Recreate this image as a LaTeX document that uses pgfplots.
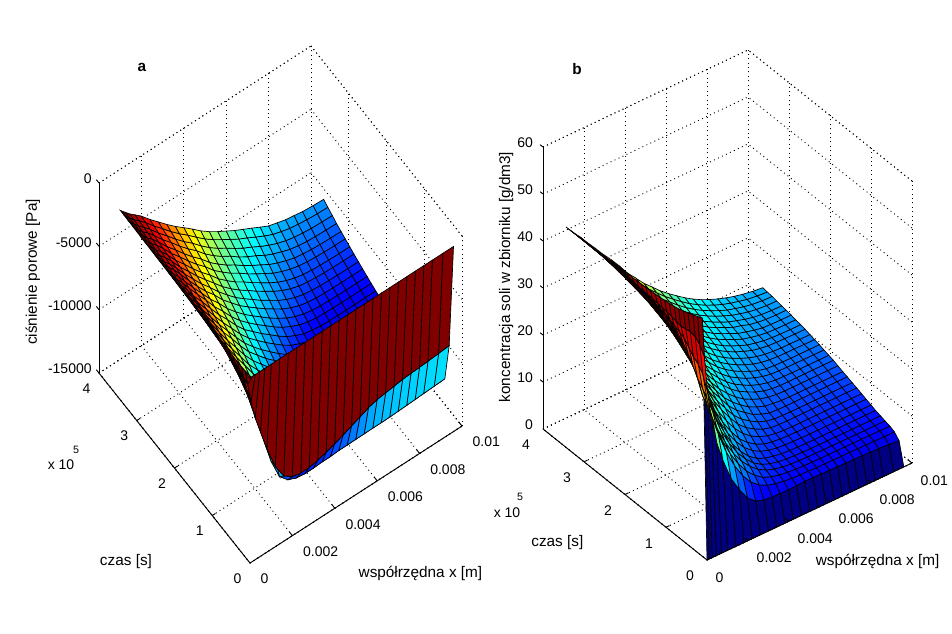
\documentclass[border=0pt]{standalone}
\usepackage{fontspec}
\setmainfont{Liberation Sans}
\usepackage{pgfplots}
\pgfplotsset{compat=1.18}
\pgfplotsset{
 common/.style={
  disabledatascaling, clip=false, anchor=origin, unbounded coords=jump,
  grid=major, grid style={black,line width=.7pt,dash pattern=on .7pt off 2.6pt},
  axis line style={black,line width=.7pt,dash pattern=on .7pt off 2.6pt},
  major tick length=0pt,
  xmin=0,xmax=10,ymin=0,ymax=4,
  xtick={0,2,4,6,8,10}, xticklabels={0,0.002,0.004,0.006,0.008,0.01},
  ytick={0,1,2,3,4}, yticklabels={0,1,2,3,4},
  every tick label/.append style={font=\fontsize{10.5}{13}\selectfont},
  colormap={mjet}{rgb=(0,0,.5) rgb=(0,0,1) rgb=(0,.5,1) rgb=(0,1,1) rgb=(.5,1,.5) rgb=(1,1,0) rgb=(1,.5,0) rgb=(1,0,0) rgb=(.5,0,0)},
 },
 srf/.style={surf,shader=flat corner,draw=black,line width=.5pt,z buffer=sort},
 ax/.style={black,line width=.7pt,solid,forget plot,no marks},
}
\def\lab{\fontsize{11.5}{13}\selectfont}
\begin{document}
\begin{tikzpicture}
\path[use as bounding box] (0,0) rectangle (714pt,474.75pt);
\begin{axis}[common,
 at={(187.5pt,195pt)},
 x={(15.9pt,10.275pt)}, y={(-28.3125pt,35.625pt)}, z={(0pt,9.5025pt)},
 zmin=-15,zmax=0, ztick={-15,-10,-5,0}, zticklabels={-15000,-10000,-5000,0},
 point meta min=-13.1, point meta max=-.4,
 xticklabel style={anchor=west,xshift=4.5pt,yshift=-12pt},
 yticklabel style={anchor=center,xshift=-9.4pt,yshift=-11.6pt},
 zticklabel style={anchor=east,xshift=-2pt,yshift=3pt},
 xlabel={współrzędna x [m]}, ylabel={czas [s]}, zlabel={ciśnienie porowe [Pa]},
 every axis x label/.style={at={(axis cs:5.05,-1.68,-15)},anchor=center,font=\lab},
 every axis y label/.style={at={(axis cs:-3.82,1.14,-15)},anchor=center,font=\lab},
 every axis z label/.style={at={(axis cs:.44,6,-15)},anchor=center,rotate=90,font=\lab},
]
\addplot3[srf] table {
x t z
0 0 -.39
.1 0 -.39
.25 0 -.39
.45 0 -.39
.7 0 -.39
1 0 -.39
1.4 0 -.39
1.8 0 -.39
2.2 0 -.39
2.6 0 -.39
3 0 -.39
3.4 0 -.39
3.8 0 -.39
4.2 0 -.39
4.6 0 -.39
5 0 -.39
5.4 0 -.39
5.8 0 -.39
6.2 0 -.39
6.6 0 -.39
7 0 -.39
7.4 0 -.39
7.8 0 -.39
8.2 0 -.39
8.6 0 -.39
9.1 0 -.39
9.6 0 -.39

0 .115 -.38
.1 .115 -1.45
.25 .115 -3
.45 .115 -4.45
.7 .115 -5.83
1 .115 -7.48
1.4 .115 -9.33
1.8 .115 -10.5
2.2 .115 -10.99
2.6 .115 -11.13
3 .115 -11.13
3.4 .115 -10.99
3.8 .115 -10.79
4.2 .115 -10.55
4.6 .115 -10.3
5 .115 -10.01
5.4 .115 -9.72
5.8 .115 -9.43
6.2 .115 -9.23
6.6 .115 -9.14
7 .115 -9.04
7.4 .115 -8.94
7.8 .115 -8.89
8.2 .115 -8.85
8.6 .115 -8.8
9.1 .115 -8.73
9.6 .115 -8.65

0 .23 -.37
.1 .23 -1.25
.25 .23 -2.32
.45 .23 -3.58
.7 .23 -5.04
1 .23 -6.99
1.4 .23 -9.32
1.8 .23 -10.98
2.2 .23 -11.66
2.6 .23 -11.95
3 .23 -12.05
3.4 .23 -12.05
3.8 .23 -12
4.2 .23 -12
4.6 .23 -11.95
5 .23 -11.95
5.4 .23 -11.94
5.8 .23 -11.93
6.2 .23 -11.92
6.6 .23 -11.92
7 .23 -11.91
7.4 .23 -11.88
7.8 .23 -11.85
8.2 .23 -11.82
8.6 .23 -11.78
9.1 .23 -11.74
9.6 .23 -11.7

0 .34 -.36
.1 .34 -1.08
.25 .34 -1.92
.45 .34 -3.23
.7 .34 -4.79
1 .34 -6.52
1.4 .34 -8.56
1.8 .34 -10.06
2.2 .34 -11.37
2.6 .34 -12.11
3 .34 -12.3
3.4 .34 -12.33
3.8 .34 -12.33
4.2 .34 -12.33
4.6 .34 -12.33
5 .34 -12.33
5.4 .34 -12.33
5.8 .34 -12.33
6.2 .34 -12.33
6.6 .34 -12.33
7 .34 -12.33
7.4 .34 -12.33
7.8 .34 -12.33
8.2 .34 -12.33
8.6 .34 -12.33
9.1 .34 -12.33
9.6 .34 -12.33

0 .46 -.34
.1 .46 -.97
.25 .46 -1.74
.45 .46 -2.83
.7 .46 -4.22
1 .46 -5.79
1.4 .46 -7.67
1.8 .46 -9.21
2.2 .46 -10.52
2.6 .46 -11.58
3 .46 -12.21
3.4 .46 -12.42
3.8 .46 -12.45
4.2 .46 -12.45
4.6 .46 -12.45
5 .46 -12.45
5.4 .46 -12.45
5.8 .46 -12.45
6.2 .46 -12.45
6.6 .46 -12.45
7 .46 -12.45
7.4 .46 -12.45
7.8 .46 -12.45
8.2 .46 -12.45
8.6 .46 -12.45
9.1 .46 -12.45
9.6 .46 -12.45

0 .57 -.33
.1 .57 -.91
.25 .57 -1.64
.45 .57 -2.57
.7 .57 -3.9
1 .57 -5.31
1.4 .57 -7.08
1.8 .57 -8.65
2.2 .57 -9.9
2.6 .57 -10.96
3 .57 -11.76
3.4 .57 -12.23
3.8 .57 -12.42
4.2 .57 -12.49
4.6 .57 -12.52
5 .57 -12.52
5.4 .57 -12.52
5.8 .57 -12.52
6.2 .57 -12.52
6.6 .57 -12.52
7 .57 -12.52
7.4 .57 -12.52
7.8 .57 -12.52
8.2 .57 -12.52
8.6 .57 -12.52
9.1 .57 -12.52
9.6 .57 -12.52

0 .69 -.32
.1 .69 -.86
.25 .69 -1.54
.45 .69 -2.31
.7 .69 -3.58
1 .69 -4.84
1.4 .69 -6.5
1.8 .69 -8.1
2.2 .69 -9.27
2.6 .69 -10.34
3 .69 -11.31
3.4 .69 -12.04
3.8 .69 -12.39
4.2 .69 -12.53
4.6 .69 -12.58
5 .69 -12.58
5.4 .69 -12.58
5.8 .69 -12.58
6.2 .69 -12.58
6.6 .69 -12.58
7 .69 -12.58
7.4 .69 -12.58
7.8 .69 -12.58
8.2 .69 -12.58
8.6 .69 -12.58
9.1 .69 -12.58
9.6 .69 -12.58

0 .8 -.31
.1 .8 -.81
.25 .8 -1.44
.45 .8 -2.19
.7 .8 -3.35
1 .8 -4.53
1.4 .8 -6.12
1.8 .8 -7.6
2.2 .8 -8.82
2.6 .8 -9.88
3 .8 -10.81
3.4 .8 -11.6
3.8 .8 -12.1
4.2 .8 -12.4
4.6 .8 -12.52
5 .8 -12.56
5.4 .8 -12.56
5.8 .8 -12.56
6.2 .8 -12.56
6.6 .8 -12.56
7 .8 -12.56
7.4 .8 -12.56
7.8 .8 -12.56
8.2 .8 -12.56
8.6 .8 -12.56
9.1 .8 -12.56
9.6 .8 -12.56

0 .92 -.3
.1 .92 -.77
.25 .92 -1.34
.45 .92 -2.07
.7 .92 -3.12
1 .92 -4.22
1.4 .92 -5.75
1.8 .92 -7.09
2.2 .92 -8.38
2.6 .92 -9.42
3 .92 -10.31
3.4 .92 -11.17
3.8 .92 -11.81
4.2 .92 -12.26
4.6 .92 -12.47
5 .92 -12.54
5.4 .92 -12.54
5.8 .92 -12.54
6.2 .92 -12.54
6.6 .92 -12.54
7 .92 -12.54
7.4 .92 -12.54
7.8 .92 -12.54
8.2 .92 -12.54
8.6 .92 -12.54
9.1 .92 -12.54
9.6 .92 -12.54

0 1.03 -.29
.1 1.03 -.73
.25 1.03 -1.3
.45 1.03 -1.97
.7 1.03 -2.91
1 1.03 -4.01
1.4 1.03 -5.45
1.8 1.03 -6.72
2.2 1.03 -8
2.6 1.03 -9.04
3 1.03 -9.92
3.4 1.03 -10.74
3.8 1.03 -11.44
4.2 1.03 -11.97
4.6 1.03 -12.28
5 1.03 -12.43
5.4 1.03 -12.5
5.8 1.03 -12.5
6.2 1.03 -12.5
6.6 1.03 -12.5
7 1.03 -12.5
7.4 1.03 -12.5
7.8 1.03 -12.5
8.2 1.03 -12.5
8.6 1.03 -12.5
9.1 1.03 -12.5
9.6 1.03 -12.5

0 1.15 -.28
.1 1.15 -.69
.25 1.15 -1.25
.45 1.15 -1.86
.7 1.15 -2.71
1 1.15 -3.8
1.4 1.15 -5.14
1.8 1.15 -6.36
2.2 1.15 -7.61
2.6 1.15 -8.66
3 1.15 -9.52
3.4 1.15 -10.31
3.8 1.15 -11.06
4.2 1.15 -11.67
4.6 1.15 -12.09
5 1.15 -12.31
5.4 1.15 -12.41
5.8 1.15 -12.43
6.2 1.15 -12.43
6.6 1.15 -12.43
7 1.15 -12.43
7.4 1.15 -12.43
7.8 1.15 -12.43
8.2 1.15 -12.43
8.6 1.15 -12.43
9.1 1.15 -12.43
9.6 1.15 -12.43

0 1.26 -.26
.1 1.26 -.67
.25 1.26 -1.19
.45 1.26 -1.77
.7 1.26 -2.6
1 1.26 -3.63
1.4 1.26 -4.91
1.8 1.26 -6.1
2.2 1.26 -7.26
2.6 1.26 -8.35
3 1.26 -9.19
3.4 1.26 -9.98
3.8 1.26 -10.69
4.2 1.26 -11.34
4.6 1.26 -11.82
5 1.26 -12.12
5.4 1.26 -12.29
5.8 1.26 -12.35
6.2 1.26 -12.37
6.6 1.26 -12.37
7 1.26 -12.37
7.4 1.26 -12.37
7.8 1.26 -12.37
8.2 1.26 -12.37
8.6 1.26 -12.37
9.1 1.26 -12.37
9.6 1.26 -12.37

0 1.38 -.25
.1 1.38 -.64
.25 1.38 -1.13
.45 1.38 -1.67
.7 1.38 -2.49
1 1.38 -3.46
1.4 1.38 -4.68
1.8 1.38 -5.84
2.2 1.38 -6.91
2.6 1.38 -8.03
3 1.38 -8.86
3.4 1.38 -9.64
3.8 1.38 -10.32
4.2 1.38 -11
4.6 1.38 -11.54
5 1.38 -11.93
5.4 1.38 -12.17
5.8 1.38 -12.27
6.2 1.38 -12.31
6.6 1.38 -12.31
7 1.38 -12.31
7.4 1.38 -12.31
7.8 1.38 -12.31
8.2 1.38 -12.31
8.6 1.38 -12.31
9.1 1.38 -12.31
9.6 1.38 -12.31

0 1.49 -.24
.1 1.49 -.62
.25 1.49 -1.08
.45 1.49 -1.62
.7 1.49 -2.36
1 1.49 -3.31
1.4 1.49 -4.49
1.8 1.49 -5.61
2.2 1.49 -6.65
2.6 1.49 -7.72
3 1.49 -8.57
3.4 1.49 -9.33
3.8 1.49 -10.01
4.2 1.49 -10.66
4.6 1.49 -11.23
5 1.49 -11.65
5.4 1.49 -11.95
5.8 1.49 -12.1
6.2 1.49 -12.17
6.6 1.49 -12.2
7 1.49 -12.2
7.4 1.49 -12.2
7.8 1.49 -12.2
8.2 1.49 -12.2
8.6 1.49 -12.2
9.1 1.49 -12.2
9.6 1.49 -12.2

0 1.61 -.23
.1 1.61 -.59
.25 1.61 -1.04
.45 1.61 -1.56
.7 1.61 -2.23
1 1.61 -3.16
1.4 1.61 -4.3
1.8 1.61 -5.39
2.2 1.61 -6.38
2.6 1.61 -7.41
3 1.61 -8.29
3.4 1.61 -9.01
3.8 1.61 -9.71
4.2 1.61 -10.33
4.6 1.61 -10.91
5 1.61 -11.38
5.4 1.61 -11.72
5.8 1.61 -11.92
6.2 1.61 -12.03
6.6 1.61 -12.08
7 1.61 -12.1
7.4 1.61 -12.1
7.8 1.61 -12.1
8.2 1.61 -12.1
8.6 1.61 -12.1
9.1 1.61 -12.1
9.6 1.61 -12.1

0 1.72 -.22
.1 1.72 -.57
.25 1.72 -.99
.45 1.72 -1.51
.7 1.72 -2.1
1 1.72 -3.01
1.4 1.72 -4.1
1.8 1.72 -5.16
2.2 1.72 -6.1
2.6 1.72 -7.1
3 1.72 -8
3.4 1.72 -8.7
3.8 1.72 -9.4
4.2 1.72 -9.99
4.6 1.72 -10.6
5 1.72 -11.1
5.4 1.72 -11.5
5.8 1.72 -11.75
6.2 1.72 -11.9
6.6 1.72 -11.97
7 1.72 -11.99
7.4 1.72 -11.99
7.8 1.72 -11.99
8.2 1.72 -11.99
8.6 1.72 -11.99
9.1 1.72 -11.99
9.6 1.72 -11.99

0 1.83 -.21
.1 1.83 -.55
.25 1.83 -.95
.45 1.83 -1.45
.7 1.83 -2.03
1 1.83 -2.91
1.4 1.83 -3.93
1.8 1.83 -4.96
2.2 1.83 -5.9
2.6 1.83 -6.84
3 1.83 -7.73
3.4 1.83 -8.46
3.8 1.83 -9.12
4.2 1.83 -9.71
4.6 1.83 -10.29
5 1.83 -10.8
5.4 1.83 -11.23
5.8 1.83 -11.51
6.2 1.83 -11.71
6.6 1.83 -11.8
7 1.83 -11.85
7.4 1.83 -11.86
7.8 1.83 -11.86
8.2 1.83 -11.86
8.6 1.83 -11.86
9.1 1.83 -11.86
9.6 1.83 -11.86

0 1.95 -.2
.1 1.95 -.52
.25 1.95 -.9
.45 1.95 -1.39
.7 1.95 -1.97
1 1.95 -2.81
1.4 1.95 -3.76
1.8 1.95 -4.76
2.2 1.95 -5.7
2.6 1.95 -6.58
3 1.95 -7.46
3.4 1.95 -8.22
3.8 1.95 -8.84
4.2 1.95 -9.43
4.6 1.95 -9.98
5 1.95 -10.51
5.4 1.95 -10.96
5.8 1.95 -11.27
6.2 1.95 -11.52
6.6 1.95 -11.64
7 1.95 -11.71
7.4 1.95 -11.73
7.8 1.95 -11.74
8.2 1.95 -11.74
8.6 1.95 -11.74
9.1 1.95 -11.74
9.6 1.95 -11.74

0 2.06 -.18
.1 2.06 -.5
.25 2.06 -.86
.45 2.06 -1.33
.7 2.06 -1.9
1 2.06 -2.71
1.4 2.06 -3.59
1.8 2.06 -4.56
2.2 2.06 -5.49
2.6 2.06 -6.31
3 2.06 -7.19
3.4 2.06 -7.97
3.8 2.06 -8.55
4.2 2.06 -9.14
4.6 2.06 -9.67
5 2.06 -10.21
5.4 2.06 -10.69
5.8 2.06 -11.03
6.2 2.06 -11.33
6.6 2.06 -11.47
7 2.06 -11.57
7.4 2.06 -11.6
7.8 2.06 -11.62
8.2 2.06 -11.62
8.6 2.06 -11.62
9.1 2.06 -11.62
9.6 2.06 -11.62

0 2.18 -.17
.1 2.18 -.48
.25 2.18 -.82
.45 2.18 -1.29
.7 2.18 -1.81
1 2.18 -2.54
1.4 2.18 -3.47
1.8 2.18 -4.35
2.2 2.18 -5.31
2.6 2.18 -6.1
3 2.18 -6.96
3.4 2.18 -7.7
3.8 2.18 -8.31
4.2 2.18 -8.88
4.6 2.18 -9.4
5 2.18 -9.93
5.4 2.18 -10.4
5.8 2.18 -10.77
6.2 2.18 -11.08
6.6 2.18 -11.27
7 2.18 -11.39
7.4 2.18 -11.44
7.8 2.18 -11.47
8.2 2.18 -11.48
8.6 2.18 -11.48
9.1 2.18 -11.48
9.6 2.18 -11.48

0 2.29 -.16
.1 2.29 -.45
.25 2.29 -.79
.45 2.29 -1.24
.7 2.29 -1.72
1 2.29 -2.42
1.4 2.29 -3.35
1.8 2.29 -4.23
2.2 2.29 -5.13
2.6 2.29 -5.88
3 2.29 -6.73
3.4 2.29 -7.43
3.8 2.29 -8.06
4.2 2.29 -8.61
4.6 2.29 -9.13
5 2.29 -9.65
5.4 2.29 -10.1
5.8 2.29 -10.51
6.2 2.29 -10.83
6.6 2.29 -11.06
7 2.29 -11.2
7.4 2.29 -11.27
7.8 2.29 -11.31
8.2 2.29 -11.33
8.6 2.29 -11.34
9.1 2.29 -11.34
9.6 2.29 -11.34

0 2.41 -.15
.1 2.41 -.43
.25 2.41 -.75
.45 2.41 -1.2
.7 2.41 -1.64
1 2.41 -2.3
1.4 2.41 -3.24
1.8 2.41 -4.12
2.2 2.41 -4.95
2.6 2.41 -5.67
3 2.41 -6.5
3.4 2.41 -7.16
3.8 2.41 -7.82
4.2 2.41 -8.35
4.6 2.41 -8.87
5 2.41 -9.37
5.4 2.41 -9.81
5.8 2.41 -10.25
6.2 2.41 -10.58
6.6 2.41 -10.86
7 2.41 -11.02
7.4 2.41 -11.11
7.8 2.41 -11.16
8.2 2.41 -11.18
8.6 2.41 -11.19
9.1 2.41 -11.19
9.6 2.41 -11.19

0 2.52 -.14
.1 2.52 -.41
.25 2.52 -.72
.45 2.52 -1.16
.7 2.52 -1.59
1 2.52 -2.22
1.4 2.52 -3.14
1.8 2.52 -3.97
2.2 2.52 -4.78
2.6 2.52 -5.5
3 2.52 -6.27
3.4 2.52 -6.95
3.8 2.52 -7.59
4.2 2.52 -8.12
4.6 2.52 -8.61
5 2.52 -9.11
5.4 2.52 -9.55
5.8 2.52 -9.99
6.2 2.52 -10.34
6.6 2.52 -10.62
7 2.52 -10.81
7.4 2.52 -10.92
7.8 2.52 -10.98
8.2 2.52 -11.01
8.6 2.52 -11.03
9.1 2.52 -11.04
9.6 2.52 -11.04

0 2.64 -.13
.1 2.64 -.39
.25 2.64 -.68
.45 2.64 -1.11
.7 2.64 -1.53
1 2.64 -2.14
1.4 2.64 -3.04
1.8 2.64 -3.82
2.2 2.64 -4.62
2.6 2.64 -5.34
3 2.64 -6.04
3.4 2.64 -6.75
3.8 2.64 -7.35
4.2 2.64 -7.89
4.6 2.64 -8.35
5 2.64 -8.84
5.4 2.64 -9.28
5.8 2.64 -9.72
6.2 2.64 -10.09
6.6 2.64 -10.38
7 2.64 -10.6
7.4 2.64 -10.72
7.8 2.64 -10.8
8.2 2.64 -10.84
8.6 2.64 -10.87
9.1 2.64 -10.88
9.6 2.64 -10.88

0 2.75 -.12
.1 2.75 -.37
.25 2.75 -.65
.45 2.75 -1.07
.7 2.75 -1.48
1 2.75 -2.06
1.4 2.75 -2.94
1.8 2.75 -3.67
2.2 2.75 -4.45
2.6 2.75 -5.17
3 2.75 -5.81
3.4 2.75 -6.54
3.8 2.75 -7.12
4.2 2.75 -7.66
4.6 2.75 -8.09
5 2.75 -8.58
5.4 2.75 -9.02
5.8 2.75 -9.46
6.2 2.75 -9.85
6.6 2.75 -10.14
7 2.75 -10.38
7.4 2.75 -10.53
7.8 2.75 -10.62
8.2 2.75 -10.67
8.6 2.75 -10.7
9.1 2.75 -10.72
9.6 2.75 -10.72

0 2.87 -.11
.1 2.87 -.35
.25 2.87 -.62
.45 2.87 -1.03
.7 2.87 -1.43
1 2.87 -1.99
1.4 2.87 -2.83
1.8 2.87 -3.54
2.2 2.87 -4.29
2.6 2.87 -4.99
3 2.87 -5.61
3.4 2.87 -6.33
3.8 2.87 -6.9
4.2 2.87 -7.42
4.6 2.87 -7.85
5 2.87 -8.34
5.4 2.87 -8.77
5.8 2.87 -9.18
6.2 2.87 -9.58
6.6 2.87 -9.88
7 2.87 -10.13
7.4 2.87 -10.31
7.8 2.87 -10.41
8.2 2.87 -10.48
8.6 2.87 -10.52
9.1 2.87 -10.54
9.6 2.87 -10.55

0 2.98 -.09
.1 2.98 -.32
.25 2.98 -.6
.45 2.98 -1
.7 2.98 -1.37
1 2.98 -1.92
1.4 2.98 -2.72
1.8 2.98 -3.4
2.2 2.98 -4.14
2.6 2.98 -4.81
3 2.98 -5.41
3.4 2.98 -6.12
3.8 2.98 -6.68
4.2 2.98 -7.19
4.6 2.98 -7.61
5 2.98 -8.1
5.4 2.98 -8.52
5.8 2.98 -8.9
6.2 2.98 -9.31
6.6 2.98 -9.62
7 2.98 -9.87
7.4 2.98 -10.09
7.8 2.98 -10.2
8.2 2.98 -10.29
8.6 2.98 -10.33
9.1 2.98 -10.36
9.6 2.98 -10.38

0 3.1 -.08
.1 3.1 -.3
.25 3.1 -.57
.45 3.1 -.96
.7 3.1 -1.32
1 3.1 -1.85
1.4 3.1 -2.61
1.8 3.1 -3.27
2.2 3.1 -3.98
2.6 3.1 -4.63
3 3.1 -5.21
3.4 3.1 -5.9
3.8 3.1 -6.46
4.2 3.1 -6.96
4.6 3.1 -7.37
5 3.1 -7.87
5.4 3.1 -8.28
5.8 3.1 -8.63
6.2 3.1 -9.04
6.6 3.1 -9.36
7 3.1 -9.62
7.4 3.1 -9.86
7.8 3.1 -10
8.2 3.1 -10.1
8.6 3.1 -10.15
9.1 3.1 -10.18
9.6 3.1 -10.2

0 3.21 -.07
.1 3.21 -.28
.25 3.21 -.55
.45 3.21 -.92
.7 3.21 -1.27
1 3.21 -1.77
1.4 3.21 -2.5
1.8 3.21 -3.15
2.2 3.21 -3.84
2.6 3.21 -4.47
3 3.21 -5.03
3.4 3.21 -5.67
3.8 3.21 -6.24
4.2 3.21 -6.73
4.6 3.21 -7.15
5 3.21 -7.61
5.4 3.21 -8.02
5.8 3.21 -8.36
6.2 3.21 -8.75
6.6 3.21 -9.08
7 3.21 -9.37
7.4 3.21 -9.59
7.8 3.21 -9.75
8.2 3.21 -9.85
8.6 3.21 -9.92
9.1 3.21 -9.96
9.6 3.21 -9.99

0 3.33 -.06
.1 3.33 -.26
.25 3.33 -.52
.45 3.33 -.87
.7 3.33 -1.22
1 3.33 -1.68
1.4 3.33 -2.4
1.8 3.33 -3.03
2.2 3.33 -3.7
2.6 3.33 -4.3
3 3.33 -4.85
3.4 3.33 -5.44
3.8 3.33 -6.01
4.2 3.33 -6.5
4.6 3.33 -6.93
5 3.33 -7.35
5.4 3.33 -7.75
5.8 3.33 -8.09
6.2 3.33 -8.46
6.6 3.33 -8.8
7 3.33 -9.11
7.4 3.33 -9.32
7.8 3.33 -9.5
8.2 3.33 -9.6
8.6 3.33 -9.69
9.1 3.33 -9.75
9.6 3.33 -9.78

0 3.44 -.05
.1 3.44 -.24
.25 3.44 -.49
.45 3.44 -.83
.7 3.44 -1.17
1 3.44 -1.6
1.4 3.44 -2.29
1.8 3.44 -2.92
2.2 3.44 -3.55
2.6 3.44 -4.14
3 3.44 -4.67
3.4 3.44 -5.21
3.8 3.44 -5.79
4.2 3.44 -6.28
4.6 3.44 -6.71
5 3.44 -7.1
5.4 3.44 -7.49
5.8 3.44 -7.83
6.2 3.44 -8.17
6.6 3.44 -8.52
7 3.44 -8.86
7.4 3.44 -9.05
7.8 3.44 -9.24
8.2 3.44 -9.34
8.6 3.44 -9.46
9.1 3.44 -9.53
9.6 3.44 -9.57
};
\addplot3[ax] coordinates {(0,0,-15)(10,0,-15)};
\addplot3[ax] coordinates {(0,0,-15)(0,4,-15)};
\addplot3[ax] coordinates {(0,4,-15)(0,4,0)};
\addplot3[ax] coordinates {(2,0,-15)(2,.08,-15) (nan,nan,nan) (4,0,-15)(4,.08,-15) (nan,nan,nan) (6,0,-15)(6,.08,-15) (nan,nan,nan) (8,0,-15)(8,.08,-15) (nan,nan,nan) (10,0,-15)(10,.08,-15) (nan,nan,nan) (0,1,-15)(.15,1,-15) (nan,nan,nan) (0,2,-15)(.15,2,-15) (nan,nan,nan) (0,3,-15)(.15,3,-15) (nan,nan,nan) (0,4,-5)(0,4.07,-5) (nan,nan,nan) (0,4,-10)(0,4.07,-10) (nan,nan,nan) (0,4,0)(0,4.07,0) (nan,nan,nan) (0,4,-15)(0,4.07,-15)};
\end{axis}
\begin{axis}[common,
 at={(530.25pt,54.75pt)},
 x={(15.375pt,7.275pt)}, y={(-30.75pt,24.5625pt)}, z={(0pt,3.525pt)},
 zmin=0,zmax=60, ztick={0,10,20,30,40,50,60}, zticklabels={0,10,20,30,40,50,60},
 point meta min=0, point meta max=49,
 xticklabel style={anchor=west,xshift=3pt,yshift=-13pt},
 yticklabel style={anchor=center,xshift=-12.7pt,yshift=-12pt},
 zticklabel style={anchor=east,xshift=-4pt,yshift=3pt},
 xlabel={współrzędna x [m]}, ylabel={czas [s]}, zlabel={koncentracja soli w zbiorniku [g/dm3]},
 every axis x label/.style={at={(axis cs:5.18,-1.57,0)},anchor=center,font=\lab},
 every axis y label/.style={at={(axis cs:-3.92,1.69,0)},anchor=center,font=\lab},
 every axis z label/.style={at={(axis cs:4.7,7.25,0)},anchor=center,rotate=90,font=\lab},
]
\addplot3[srf] table {
x t z
0 0 0
.1 0 0
.25 0 0
.45 0 0
.7 0 0
1 0 0
1.4 0 0
1.8 0 0
2.2 0 0
2.6 0 0
3 0 0
3.4 0 0
3.8 0 0
4.2 0 0
4.6 0 0
5 0 0
5.4 0 0
5.8 0 0
6.2 0 0
6.6 0 0
7 0 0
7.4 0 0
7.8 0 0
8.2 0 0
8.6 0 0
9.1 0 0
9.6 0 0

0 .115 50.7
.1 .115 42.3
.25 .115 34.5
.45 .115 27.9
.7 .115 22.8
1 .115 18.45
1.4 .115 13.7
1.8 .115 10.5
2.2 .115 7.9
2.6 .115 6.4
3 .115 5.8
3.4 .115 5.6
3.8 .115 5.5
4.2 .115 5.5
4.6 .115 5.5
5 .115 5.65
5.4 .115 5.6
5.8 .115 5.55
6.2 .115 5.5
6.6 .115 5.45
7 .115 5.4
7.4 .115 5.35
7.8 .115 5.3
8.2 .115 5.25
8.6 .115 5.15
9.1 .115 5
9.6 .115 4.75

0 .23 50.2
.1 .23 44.1
.25 .23 37.5
.45 .23 31.9
.7 .23 27.4
1 .23 23.3
1.4 .23 18.5
1.8 .23 14.8
2.2 .23 11.8
2.6 .23 9.6
3 .23 8.2
3.4 .23 7.3
3.8 .23 6.8
4.2 .23 6.5
4.6 .23 6.3
5 .23 6.2
5.4 .23 6.15
5.8 .23 6.1
6.2 .23 6.05
6.6 .23 6.05
7 .23 6
7.4 .23 6
7.8 .23 5.95
8.2 .23 5.95
8.6 .23 5.9
9.1 .23 5.85
9.6 .23 5.85

0 .34 49.8
.1 .34 45
.25 .34 38.8
.45 .34 33.4
.7 .34 29
1 .34 25
1.4 .34 20.4
1.8 .34 16.6
2.2 .34 13.6
2.6 .34 11.2
3 .34 9.5
3.4 .34 8.2
3.8 .34 7.5
4.2 .34 7.05
4.6 .34 6.8
5 .34 6.65
5.4 .34 6.55
5.8 .34 6.5
6.2 .34 6.45
6.6 .34 6.45
7 .34 6.45
7.4 .34 6.4
7.8 .34 6.4
8.2 .34 6.4
8.6 .34 6.35
9.1 .34 6.35
9.6 .34 6.3

0 .46 49.35
.1 .46 45.2
.25 .46 39.6
.45 .46 34.6
.7 .46 30.4
1 .46 26.6
1.4 .46 22
1.8 .46 18.2
2.2 .46 15
2.6 .46 12.5
3 .46 10.6
3.4 .46 9.1
3.8 .46 8.1
4.2 .46 7.5
4.6 .46 7.1
5 .46 6.9
5.4 .46 6.8
5.8 .46 6.7
6.2 .46 6.7
6.6 .46 6.65
7 .46 6.65
7.4 .46 6.65
7.8 .46 6.6
8.2 .46 6.6
8.6 .46 6.6
9.1 .46 6.6
9.6 .46 6.6

0 .57 49
.1 .57 45
.25 .57 40.8
.45 .57 36.5
.7 .57 33.2
1 .57 29.8
1.4 .57 24.9
1.8 .57 20
2.2 .57 16.5
2.6 .57 13.6
3 .57 11.4
3.4 .57 9.7
3.8 .57 8.55
4.2 .57 7.85
4.6 .57 7.45
5 .57 7.2
5.4 .57 7.1
5.8 .57 7
6.2 .57 6.95
6.6 .57 6.95
7 .57 6.95
7.4 .57 6.95
7.8 .57 6.9
8.2 .57 6.9
8.6 .57 6.9
9.1 .57 6.9
9.6 .57 6.9

0 .69 48.6
.1 .69 44.8
.25 .69 42
.45 .69 38.3
.7 .69 35.9
1 .69 32.9
1.4 .69 27.7
1.8 .69 21.9
2.2 .69 18
2.6 .69 14.6
3 .69 12.2
3.4 .69 10.3
3.8 .69 9
4.2 .69 8.2
4.6 .69 7.8
5 .69 7.5
5.4 .69 7.35
5.8 .69 7.25
6.2 .69 7.2
6.6 .69 7.2
7 .69 7.2
7.4 .69 7.2
7.8 .69 7.2
8.2 .69 7.2
8.6 .69 7.2
9.1 .69 7.2
9.6 .69 7.2

0 .8 48.4
.1 .8 45
.25 .8 42.5
.45 .8 39.5
.7 .8 36.7
1 .8 33.6
1.4 .8 28.8
1.8 .8 23.6
2.2 .8 19.5
2.6 .8 16.1
3 .8 13.5
3.4 .8 11.4
3.8 .8 9.9
4.2 .8 8.9
4.6 .8 8.3
5 .8 7.95
5.4 .8 7.8
5.8 .8 7.7
6.2 .8 7.65
6.6 .8 7.6
7 .8 7.6
7.4 .8 7.6
7.8 .8 7.6
8.2 .8 7.6
8.6 .8 7.6
9.1 .8 7.6
9.6 .8 7.6

0 .92 48.2
.1 .92 45.3
.25 .92 43
.45 .92 40.6
.7 .92 37.4
1 .92 34.2
1.4 .92 29.8
1.8 .92 25.2
2.2 .92 21
2.6 .92 17.6
3 .92 14.8
3.4 .92 12.4
3.8 .92 10.8
4.2 .92 9.6
4.6 .92 8.8
5 .92 8.4
5.4 .92 8.2
5.8 .92 8.1
6.2 .92 8.05
6.6 .92 8
7 .92 8
7.4 .92 8
7.8 .92 8
8.2 .92 8
8.6 .92 8
9.1 .92 8
9.6 .92 8

0 1.03 48
.1 1.03 45.45
.25 1.03 43.5
.45 1.03 41.3
.7 1.03 38.35
1 1.03 35.2
1.4 1.03 31.05
1.8 1.03 26.75
2.2 1.03 22.7
2.6 1.03 19.15
3 1.03 16.3
3.4 1.03 13.85
3.8 1.03 11.95
4.2 1.03 10.55
4.6 1.03 9.6
5 1.03 8.95
5.4 1.03 8.6
5.8 1.03 8.45
6.2 1.03 8.4
6.6 1.03 8.4
7 1.03 8.4
7.4 1.03 8.4
7.8 1.03 8.4
8.2 1.03 8.4
8.6 1.03 8.4
9.1 1.03 8.4
9.6 1.03 8.4

0 1.15 47.9
.1 1.15 45.6
.25 1.15 44
.45 1.15 42
.7 1.15 39.3
1 1.15 36.2
1.4 1.15 32.3
1.8 1.15 28.3
2.2 1.15 24.4
2.6 1.15 20.7
3 1.15 17.8
3.4 1.15 15.3
3.8 1.15 13.1
4.2 1.15 11.5
4.6 1.15 10.4
5 1.15 9.5
5.4 1.15 9
5.8 1.15 8.85
6.2 1.15 8.8
6.6 1.15 8.8
7 1.15 8.8
7.4 1.15 8.8
7.8 1.15 8.8
8.2 1.15 8.8
8.6 1.15 8.8
9.1 1.15 8.8
9.6 1.15 8.8

0 1.26 47.8
.1 1.26 45.7
.25 1.26 44.2
.45 1.26 42.35
.7 1.26 39.8
1 1.26 36.85
1.4 1.26 33.25
1.8 1.26 29.2
2.2 1.26 25.35
2.6 1.26 21.85
3 1.26 19
3.4 1.26 16.55
3.8 1.26 14.25
4.2 1.26 12.55
4.6 1.26 11.35
5 1.26 10.3
5.4 1.26 9.65
5.8 1.26 9.3
6.2 1.26 9.2
6.6 1.26 9.15
7 1.26 9.15
7.4 1.26 9.15
7.8 1.26 9.15
8.2 1.26 9.15
8.6 1.26 9.15
9.1 1.26 9.15
9.6 1.26 9.15

0 1.38 47.7
.1 1.38 45.8
.25 1.38 44.4
.45 1.38 42.7
.7 1.38 40.3
1 1.38 37.5
1.4 1.38 34.2
1.8 1.38 30.1
2.2 1.38 26.3
2.6 1.38 23
3 1.38 20.2
3.4 1.38 17.8
3.8 1.38 15.4
4.2 1.38 13.6
4.6 1.38 12.3
5 1.38 11.05
5.4 1.38 10.3
5.8 1.38 9.7
6.2 1.38 9.6
6.6 1.38 9.55
7 1.38 9.55
7.4 1.38 9.55
7.8 1.38 9.55
8.2 1.38 9.55
8.6 1.38 9.55
9.1 1.38 9.55
9.6 1.38 9.55

0 1.49 47.6
.1 1.49 45.85
.25 1.49 44.55
.45 1.49 43
.7 1.49 40.75
1 1.49 38
1.4 1.49 34.7
1.8 1.49 30.85
2.2 1.49 27.15
2.6 1.49 23.95
3 1.49 21.15
3.4 1.49 18.75
3.8 1.49 16.4
4.2 1.49 14.6
4.6 1.49 13.15
5 1.49 11.9
5.4 1.49 11.05
5.8 1.49 10.4
6.2 1.49 10.15
6.6 1.49 9.95
7 1.49 9.9
7.4 1.49 9.9
7.8 1.49 9.9
8.2 1.49 9.9
8.6 1.49 9.9
9.1 1.49 9.9
9.6 1.49 9.9

0 1.61 47.55
.1 1.61 45.95
.25 1.61 44.75
.45 1.61 43.3
.7 1.61 41.15
1 1.61 38.5
1.4 1.61 35.2
1.8 1.61 31.65
2.2 1.61 28
2.6 1.61 24.9
3 1.61 22.05
3.4 1.61 19.65
3.8 1.61 17.4
4.2 1.61 15.6
4.6 1.61 14
5 1.61 12.75
5.4 1.61 11.85
5.8 1.61 11.1
6.2 1.61 10.65
6.6 1.61 10.4
7 1.61 10.3
7.4 1.61 10.3
7.8 1.61 10.3
8.2 1.61 10.3
8.6 1.61 10.3
9.1 1.61 10.3
9.6 1.61 10.3

0 1.72 47.5
.1 1.72 46
.25 1.72 44.9
.45 1.72 43.6
.7 1.72 41.6
1 1.72 39
1.4 1.72 35.7
1.8 1.72 32.4
2.2 1.72 28.9
2.6 1.72 25.8
3 1.72 23
3.4 1.72 20.6
3.8 1.72 18.4
4.2 1.72 16.6
4.6 1.72 14.9
5 1.72 13.6
5.4 1.72 12.65
5.8 1.72 11.8
6.2 1.72 11.2
6.6 1.72 10.85
7 1.72 10.7
7.4 1.72 10.7
7.8 1.72 10.7
8.2 1.72 10.7
8.6 1.72 10.7
9.1 1.72 10.7
9.6 1.72 10.7

0 1.83 47.45
.1 1.83 46.15
.25 1.83 45.1
.45 1.83 43.75
.7 1.83 41.8
1 1.83 39.3
1.4 1.83 36.1
1.8 1.83 33
2.2 1.83 29.6
2.6 1.83 26.55
3 1.83 23.8
3.4 1.83 21.4
3.8 1.83 19.25
4.2 1.83 17.4
4.6 1.83 15.7
5 1.83 14.35
5.4 1.83 13.35
5.8 1.83 12.45
6.2 1.83 11.8
6.6 1.83 11.35
7 1.83 11.1
7.4 1.83 11.05
7.8 1.83 11
8.2 1.83 11
8.6 1.83 11
9.1 1.83 11
9.6 1.83 11

0 1.95 47.4
.1 1.95 46.3
.25 1.95 45.3
.45 1.95 43.9
.7 1.95 42
1 1.95 39.55
1.4 1.95 36.5
1.8 1.95 33.55
2.2 1.95 30.3
2.6 1.95 27.3
3 1.95 24.55
3.4 1.95 22.2
3.8 1.95 20.05
4.2 1.95 18.2
4.6 1.95 16.5
5 1.95 15.1
5.4 1.95 14.05
5.8 1.95 13.1
6.2 1.95 12.4
6.6 1.95 11.85
7 1.95 11.5
7.4 1.95 11.4
7.8 1.95 11.35
8.2 1.95 11.35
8.6 1.95 11.3
9.1 1.95 11.3
9.6 1.95 11.3

0 2.06 47.3
.1 2.06 46.5
.25 2.06 45.5
.45 2.06 44
.7 2.06 42.15
1 2.06 39.85
1.4 2.06 36.9
1.8 2.06 34.1
2.2 2.06 31
2.6 2.06 28.1
3 2.06 25.35
3.4 2.06 23
3.8 2.06 20.9
4.2 2.06 19.05
4.6 2.06 17.3
5 2.06 15.9
5.4 2.06 14.75
5.8 2.06 13.8
6.2 2.06 13
6.6 2.06 12.35
7 2.06 11.9
7.4 2.06 11.75
7.8 2.06 11.7
8.2 2.06 11.65
8.6 2.06 11.65
9.1 2.06 11.65
9.6 2.06 11.65

0 2.18 47.25
.1 2.18 46.45
.25 2.18 45.45
.45 2.18 44.1
.7 2.18 42.3
1 2.18 40.05
1.4 2.18 37.35
1.8 2.18 34.45
2.2 2.18 31.45
2.6 2.18 28.6
3 2.18 25.95
3.4 2.18 23.65
3.8 2.18 21.55
4.2 2.18 19.7
4.6 2.18 17.95
5 2.18 16.55
5.4 2.18 15.4
5.8 2.18 14.4
6.2 2.18 13.55
6.6 2.18 12.9
7 2.18 12.4
7.4 2.18 12.15
7.8 2.18 12
8.2 2.18 11.95
8.6 2.18 11.95
9.1 2.18 11.9
9.6 2.18 11.9

0 2.29 47.2
.1 2.29 46.4
.25 2.29 45.4
.45 2.29 44.15
.7 2.29 42.5
1 2.29 40.2
1.4 2.29 37.55
1.8 2.29 34.85
2.2 2.29 31.95
2.6 2.29 29.15
3 2.29 26.6
3.4 2.29 24.35
3.8 2.29 22.25
4.2 2.29 20.35
4.6 2.29 18.7
5 2.29 17.2
5.4 2.29 16
5.8 2.29 15
6.2 2.29 14.15
6.6 2.29 13.45
7 2.29 12.9
7.4 2.29 12.55
7.8 2.29 12.35
8.2 2.29 12.25
8.6 2.29 12.25
9.1 2.29 12.2
9.6 2.29 12.2

0 2.41 47.15
.1 2.41 46.4
.25 2.41 45.4
.45 2.41 44.2
.7 2.41 42.65
1 2.41 40.4
1.4 2.41 37.8
1.8 2.41 35.2
2.2 2.41 32.4
2.6 2.41 29.65
3 2.41 27.2
3.4 2.41 25
3.8 2.41 22.9
4.2 2.41 21
4.6 2.41 19.4
5 2.41 17.9
5.4 2.41 16.65
5.8 2.41 15.6
6.2 2.41 14.7
6.6 2.41 14
7 2.41 13.35
7.4 2.41 12.95
7.8 2.41 12.7
8.2 2.41 12.6
8.6 2.41 12.55
9.1 2.41 12.5
9.6 2.41 12.5

0 2.52 47.15
.1 2.52 46.4
.25 2.52 45.45
.45 2.52 44.25
.7 2.52 42.75
1 2.52 40.6
1.4 2.52 38.05
1.8 2.52 35.5
2.2 2.52 32.8
2.6 2.52 30.15
3 2.52 27.75
3.4 2.52 25.5
3.8 2.52 23.45
4.2 2.52 21.6
4.6 2.52 20
5 2.52 18.5
5.4 2.52 17.2
5.8 2.52 16.1
6.2 2.52 15.2
6.6 2.52 14.45
7 2.52 13.75
7.4 2.52 13.35
7.8 2.52 13
8.2 2.52 12.85
8.6 2.52 12.75
9.1 2.52 12.7
9.6 2.52 12.7

0 2.64 47.1
.1 2.64 46.45
.25 2.64 45.5
.45 2.64 44.3
.7 2.64 42.8
1 2.64 40.8
1.4 2.64 38.35
1.8 2.64 35.8
2.2 2.64 33.2
2.6 2.64 30.6
3 2.64 28.25
3.4 2.64 26
3.8 2.64 24
4.2 2.64 22.2
4.6 2.64 20.6
5 2.64 19.05
5.4 2.64 17.7
5.8 2.64 16.6
6.2 2.64 15.7
6.6 2.64 14.9
7 2.64 14.15
7.4 2.64 13.7
7.8 2.64 13.3
8.2 2.64 13.05
8.6 2.64 12.95
9.1 2.64 12.9
9.6 2.64 12.9

0 2.75 47.1
.1 2.75 46.45
.25 2.75 45.5
.45 2.75 44.4
.7 2.75 42.9
1 2.75 41
1.4 2.75 38.6
1.8 2.75 36.1
2.2 2.75 33.65
2.6 2.75 31.1
3 2.75 28.8
3.4 2.75 26.5
3.8 2.75 24.5
4.2 2.75 22.8
4.6 2.75 21.2
5 2.75 19.65
5.4 2.75 18.25
5.8 2.75 17.1
6.2 2.75 16.2
6.6 2.75 15.4
7 2.75 14.6
7.4 2.75 14.1
7.8 2.75 13.65
8.2 2.75 13.3
8.6 2.75 13.2
9.1 2.75 13.15
9.6 2.75 13.15

0 2.87 47.05
.1 2.87 46.45
.25 2.87 45.5
.45 2.87 44.4
.7 2.87 43
1 2.87 41.1
1.4 2.87 38.75
1.8 2.87 36.35
2.2 2.87 34
2.6 2.87 31.45
3 2.87 29.2
3.4 2.87 26.95
3.8 2.87 24.95
4.2 2.87 23.25
4.6 2.87 21.7
5 2.87 20.15
5.4 2.87 18.75
5.8 2.87 17.6
6.2 2.87 16.65
6.6 2.87 15.85
7 2.87 15.05
7.4 2.87 14.6
7.8 2.87 14
8.2 2.87 13.65
8.6 2.87 13.45
9.1 2.87 13.35
9.6 2.87 13.35

0 2.98 47.05
.1 2.98 46.4
.25 2.98 45.55
.45 2.98 44.4
.7 2.98 43
1 2.98 41.25
1.4 2.98 38.9
1.8 2.98 36.6
2.2 2.98 34.35
2.6 2.98 31.8
3 2.98 29.6
3.4 2.98 27.4
3.8 2.98 25.4
4.2 2.98 23.7
4.6 2.98 22.2
5 2.98 20.6
5.4 2.98 19.25
5.8 2.98 18.05
6.2 2.98 17.1
6.6 2.98 16.25
7 2.98 15.45
7.4 2.98 14.9
7.8 2.98 14.35
8.2 2.98 13.95
8.6 2.98 13.7
9.1 2.98 13.55
9.6 2.98 13.5

0 3.1 47
.1 3.1 46.4
.25 3.1 45.55
.45 3.1 44.4
.7 3.1 43.1
1 3.1 41.35
1.4 3.1 39
1.8 3.1 36.85
2.2 3.1 34.7
2.6 3.1 32.2
3 3.1 30
3.4 3.1 27.85
3.8 3.1 25.85
4.2 3.1 24.1
4.6 3.1 22.7
5 3.1 21.1
5.4 3.1 19.75
5.8 3.1 18.55
6.2 3.1 17.55
6.6 3.1 16.65
7 3.1 15.9
7.4 3.1 15.2
7.8 3.1 14.7
8.2 3.1 14.25
8.6 3.1 13.95
9.1 3.1 13.75
9.6 3.1 13.7

0 3.21 46.95
.1 3.21 46.4
.25 3.21 45.55
.45 3.21 44.45
.7 3.21 43.15
1 3.21 41.45
1.4 3.21 39.2
1.8 3.21 37.05
2.2 3.21 35.05
2.6 3.21 32.55
3 3.21 30.3
3.4 3.21 28.25
3.8 3.21 26.25
4.2 3.21 24.55
4.6 3.21 23.05
5 3.21 21.55
5.4 3.21 20.2
5.8 3.21 19
6.2 3.21 17.95
6.6 3.21 17.05
7 3.21 16.25
7.4 3.21 15.55
7.8 3.21 15.05
8.2 3.21 14.6
8.6 3.21 14.25
9.1 3.21 14
9.6 3.21 13.9

0 3.33 46.9
.1 3.33 46.35
.25 3.33 45.55
.45 3.33 44.45
.7 3.33 43.2
1 3.33 41.55
1.4 3.33 39.35
1.8 3.33 37.2
2.2 3.33 35.2
2.6 3.33 32.9
3 3.33 30.6
3.4 3.33 28.6
3.8 3.33 26.65
4.2 3.33 25
4.6 3.33 23.4
5 3.33 22
5.4 3.33 20.65
5.8 3.33 19.4
6.2 3.33 18.35
6.6 3.33 17.4
7 3.33 16.6
7.4 3.33 15.9
7.8 3.33 15.35
8.2 3.33 14.9
8.6 3.33 14.5
9.1 3.33 14.2
9.6 3.33 14

0 3.44 46.9
.1 3.44 46.35
.25 3.44 45.55
.45 3.44 44.5
.7 3.44 43.3
1 3.44 41.65
1.4 3.44 39.55
1.8 3.44 37.4
2.2 3.44 35.4
2.6 3.44 33.25
3 3.44 30.9
3.4 3.44 29
3.8 3.44 27.05
4.2 3.44 25.45
4.6 3.44 23.8
5 3.44 22.4
5.4 3.44 21.1
5.8 3.44 19.85
6.2 3.44 18.75
6.6 3.44 17.8
7 3.44 17
7.4 3.44 16.3
7.8 3.44 15.7
8.2 3.44 15.2
8.6 3.44 14.8
9.1 3.44 14.4
9.6 3.44 14.15
};
\addplot3[ax] coordinates {(0,0,0)(10,0,0)};
\addplot3[ax] coordinates {(0,0,0)(0,4,0)};
\addplot3[ax] coordinates {(0,4,0)(0,4,60)};
\addplot3[ax] coordinates {(2,0,0)(2,.08,0) (nan,nan,nan) (4,0,0)(4,.08,0) (nan,nan,nan) (6,0,0)(6,.08,0) (nan,nan,nan) (8,0,0)(8,.08,0) (nan,nan,nan) (10,0,0)(10,.08,0) (nan,nan,nan) (0,1,0)(.17,1,0) (nan,nan,nan) (0,2,0)(.17,2,0) (nan,nan,nan) (0,3,0)(.17,3,0) (nan,nan,nan) (0,4,10)(0,4.07,10) (nan,nan,nan) (0,4,20)(0,4.07,20) (nan,nan,nan) (0,4,30)(0,4.07,30) (nan,nan,nan) (0,4,40)(0,4.07,40) (nan,nan,nan) (0,4,50)(0,4.07,50) (nan,nan,nan) (0,4,60)(0,4.07,60)};
\end{axis}
\node[font=\bfseries\lab] at (106.5pt,424.5pt) {a};
\node[font=\bfseries\lab] at (432.75pt,423pt) {b};
\node[font=\fontsize{10.5}{13}\selectfont] at (45.75pt,126pt) {x 10};
\node[font=\fontsize{8}{9}\selectfont] at (57pt,137.25pt) {5};
\node[font=\fontsize{10.5}{13}\selectfont] at (380.25pt,90pt) {x 10};
\node[font=\fontsize{8}{9}\selectfont] at (390pt,102pt) {5};
\end{tikzpicture}
\end{document}
